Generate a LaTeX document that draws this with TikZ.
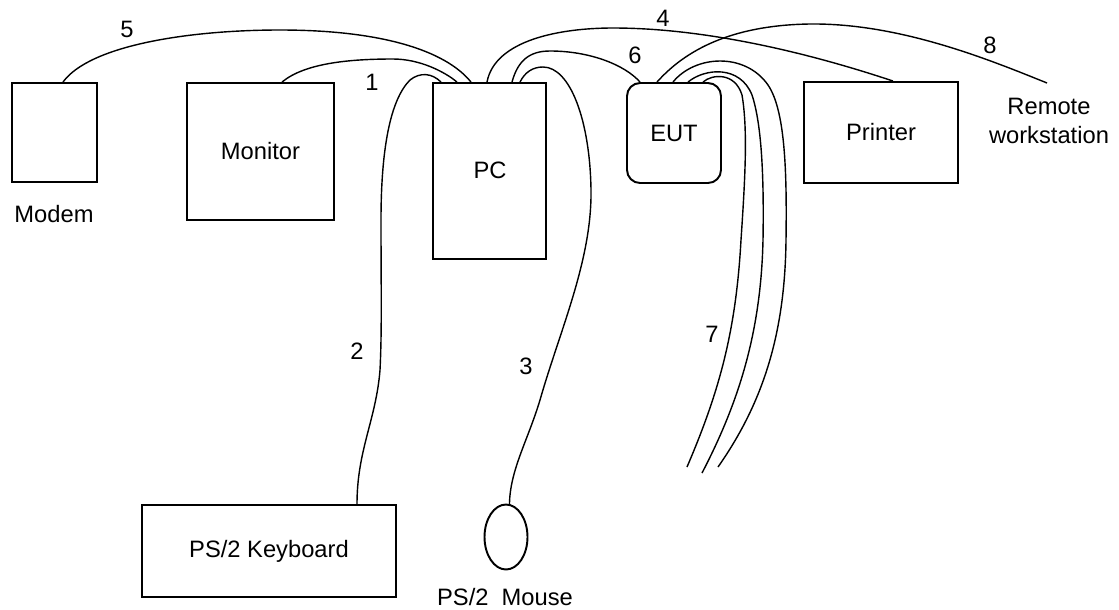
\documentclass[tikz,border=0pt]{standalone}
\usepackage{fontspec}
\setmainfont{Liberation Sans}
\usetikzlibrary{calc,shapes.geometric}
\begin{document}
\begin{tikzpicture}[x=0.02cm,y=-0.02cm,
  txt/.style={font=\fontsize{13.5}{16}\selectfont, inner sep=0pt, align=center},
  box/.style={txt, draw, line width=1.1pt, rectangle},
  cable/.style={line width=0.8pt}]
\useasboundingbox (0,0) rectangle (1119,609);

% devices
\node[box, minimum width=1.70cm, minimum height=1.98cm] (modem) at (54.5,132.5) {};
\node[box, minimum width=2.94cm, minimum height=2.74cm] (monitor) at (260.5,151.5) {Monitor};
\node[box, minimum width=2.26cm, minimum height=3.52cm] (pc) at (489.5,171) {};
\node[txt] (pclabel) at (490,170) {PC};
\node[box, rounded corners=0.26cm, minimum width=1.88cm, minimum height=2.00cm] (eut) at (674,133) {EUT};
\node[box, minimum width=3.08cm, minimum height=2.02cm] (printer) at (881,132.5) {Printer};
\node[box, minimum width=5.08cm, minimum height=1.84cm] (kbd) at (269,551) {PS/2 Keyboard};
\node[box, ellipse, minimum width=0.86cm, minimum height=1.30cm] (mouse) at (506,537) {};

% device labels
\node[txt] (modemlabel) at (54,214) {Modem};
\node[txt] (mouselabel) at (505,597) {PS/2\hspace{0.55em}Mouse};
\node[txt] (rwlabel) at (1049,121) {Remote\\workstation};

% free cable ends
\coordinate (rw) at (1047,83);
\coordinate (e7a) at (687,467);
\coordinate (e7b) at (702,473);
\coordinate (e7c) at (718,467);

% cable 5: modem - PC
\draw[cable] ($(modem.north)+(8.5,0)$) .. controls (90,45) and (190,30) .. (280,30)
  .. controls (380,30) and (445,50) .. ($(pc.north)+(-18.5,0)$);
% cable 1: monitor - PC
\draw[cable] ($(monitor.north)+(21.5,0)$) .. controls (305,63) and (350,59) .. (393,59)
  .. controls (420,59) and (445,72) .. ($(pc.north)+(-32.5,0)$);
% cable 2: PC - keyboard
\draw[cable] ($(pc.north)+(-48.5,0)$) .. controls (432,73) and (420,72) .. (410,80)
  .. controls (390,100) and (381,150) .. (381,220)
  .. controls (381,290) and (382,330) .. (380,370)
  .. controls (376,420) and (357,450) .. ($(kbd.north)+(88,0)$);
% cable 3: PC - mouse
\draw[cable] ($(pc.north)+(30.5,0)$) .. controls (525,72) and (533,67) .. (543,67)
  .. controls (570,67) and (590,120) .. (591,190)
  .. controls (592,260) and (560,330) .. (540,400)
  .. controls (528,440) and (510,470) .. (mouse.84);
% cable 4: PC - printer
\draw[cable] ($(pc.north)+(-2.5,0)$) .. controls (495,40) and (560,28) .. (613,28)
  .. controls (700,28) and (800,50) .. ($(printer.north)+(12,0)$);
% cable 6: PC - EUT
\draw[cable] ($(pc.north)+(22.5,0)$) .. controls (518,60) and (530,51) .. (550,51)
  .. controls (590,51) and (625,65) .. ($(eut.north)+(-34,0)$);
% cable 8: EUT - remote workstation
\draw[cable] ($(eut.north)+(-17,0)$) .. controls (690,45) and (740,25) .. (810,24)
  .. controls (900,23) and (990,60) .. (rw);
% cable 7: EUT - open ends
\draw[cable] ($(eut.north)+(29,0)$) .. controls (712,74) and (735,72) .. (742,95)
  .. controls (748,130) and (745,180) .. (741,240)
  .. controls (736,330) and (720,390) .. (e7a);
\draw[cable] ($(eut.north)+(14,0)$) .. controls (705,68) and (740,65) .. (752,95)
  .. controls (762,125) and (764,180) .. (763,240)
  .. controls (761,330) and (740,400) .. (e7b);
\draw[cable] ($(eut.north)+(-1,0)$) .. controls (695,55) and (745,52) .. (768,85)
  .. controls (785,110) and (787,170) .. (786,240)
  .. controls (785,330) and (765,400) .. (e7c);

% cable numbers
\node[txt] (n5) at (127,29) {5};
\node[txt] (n1) at (372,82) {1};
\node[txt] (n4) at (663,18) {4};
\node[txt] (n6) at (635,55) {6};
\node[txt] (n8) at (990,45) {8};
\node[txt] (n2) at (357,351) {2};
\node[txt] (n3) at (526,366) {3};
\node[txt] (n7) at (712,334) {7};
\end{tikzpicture}
\end{document}
